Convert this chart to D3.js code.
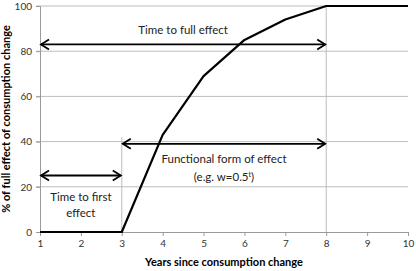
<!DOCTYPE html>
<html>
<head>
<meta charset="utf-8">
<script src="https://cdn.jsdelivr.net/npm/d3@7"></script>
<style>
  body { margin: 0; background: #fff; }
  text { font-family: Lato, "Open Sans", sans-serif; }
</style>
</head>
<body>
<div id="chart"></div>
<script>
var years = [1, 2, 3, 4, 5, 6, 7, 8, 9, 10];
var effect = [0, 0, 0, 43, 69, 85, 94, 100, 100, 100];
var yTicks = [0, 20, 40, 60, 80, 100];

// arrows: [from year, to year, level]
var arrowFull = [1, 8, 83];
var arrowForm = [3, 8, 39];
var arrowFirst = [1, 3, 25];

var margin = {top: 6, right: 8, bottom: 39, left: 40},
    width = 416 - margin.left - margin.right,
    height = 271 - margin.top - margin.bottom;

var svg = d3.select("#chart")
  .append("svg")
    .attr("width", 416)
    .attr("height", 271)
  .append("g")
    .attr("transform", "translate(" + margin.left + "," + margin.top + ")");

var x = d3.scaleLinear().domain([1, 10]).range([0, width]);
var y = d3.scaleLinear().domain([0, 100]).range([height, 0]);

// gridlines
svg.selectAll("grid")
  .data(yTicks.slice(1))
  .enter()
  .append("line")
    .attr("x1", -4).attr("x2", width)
    .attr("y1", function(d) { return y(d); })
    .attr("y2", function(d) { return y(d); })
    .attr("stroke", "#bdbdbd")
    .attr("stroke-width", 1);

// vertical guide lines at 3 and 8
svg.append("line")
  .attr("x1", x(3)).attr("x2", x(3))
  .attr("y1", y(0)).attr("y2", y(42))
  .attr("stroke", "#bdbdbd");
svg.append("line")
  .attr("x1", x(8)).attr("x2", x(8))
  .attr("y1", y(0)).attr("y2", y(100))
  .attr("stroke", "#bdbdbd");

// axes
var xAxis = svg.append("g")
  .attr("transform", "translate(0," + height + ")")
  .call(d3.axisBottom(x).tickValues(years).tickSize(4).tickPadding(4));
xAxis.select(".domain").attr("stroke", "#9a9a9a");
xAxis.selectAll(".tick line").attr("stroke", "#9a9a9a");
xAxis.selectAll("text").style("font-size", "10px").attr("fill", "#333");

var yAxis = svg.append("g")
  .call(d3.axisLeft(y).tickValues(yTicks).tickSize(4).tickPadding(4));
yAxis.select(".domain").attr("stroke", "#9a9a9a");
yAxis.selectAll(".tick line").attr("stroke", "#9a9a9a");
yAxis.selectAll("text").style("font-size", "10px").attr("fill", "#333");

// axis titles
svg.append("text")
  .attr("x", width / 2)
  .attr("y", height + 34)
  .attr("text-anchor", "middle")
  .attr("font-weight", 700)
  .style("font-size", "11px")
  .text("Years since consumption change");

svg.append("text")
  .attr("transform", "rotate(-90)")
  .attr("x", -height / 2)
  .attr("y", -30)
  .attr("text-anchor", "middle")
  .attr("font-weight", 700)
  .style("font-size", "11px")
  .text("% of full effect of consumption change");

// data line
var line = d3.line()
  .x(function(d, i) { return x(years[i]); })
  .y(function(d) { return y(d); });

svg.append("path")
  .datum(effect)
  .attr("d", line)
  .attr("fill", "none")
  .attr("stroke", "#000")
  .attr("stroke-width", 2.2)
  .attr("stroke-linejoin", "round");

// double arrows
function doubleArrow(a) {
  var x1 = x(a[0]) + 1, x2 = x(a[1]) - 1, yy = y(a[2]), h = 8, v = 5;
  var g = svg.append("g")
    .attr("fill", "none")
    .attr("stroke", "#000")
    .attr("stroke-width", 1.8);
  g.append("line").attr("x1", x1).attr("x2", x2).attr("y1", yy).attr("y2", yy);
  g.append("path").attr("d", "M" + (x1 + h) + "," + (yy - v) + "L" + x1 + "," + yy + "L" + (x1 + h) + "," + (yy + v));
  g.append("path").attr("d", "M" + (x2 - h) + "," + (yy - v) + "L" + x2 + "," + yy + "L" + (x2 - h) + "," + (yy + v));
}
doubleArrow(arrowFull);
doubleArrow(arrowForm);
doubleArrow(arrowFirst);

// annotations
function label(tx, ty, s) {
  return svg.append("text")
    .attr("x", x(tx))
    .attr("y", y(ty))
    .attr("text-anchor", "middle")
    .style("font-size", "11.5px")
    .attr("fill", "#222")
    .text(s);
}
label(4.5, 87.5, "Time to full effect");
label(5.5, 30.5, "Functional form of effect");
var eg = label(5.5, 22.5, "(e.g. w=0.5");
eg.append("tspan").attr("baseline-shift", "super").style("font-size", "7px").text("t");
eg.append("tspan").text(")");
label(2, 13.5, "Time to first");
label(2, 6.5, "effect");
</script>
</body>
</html>
